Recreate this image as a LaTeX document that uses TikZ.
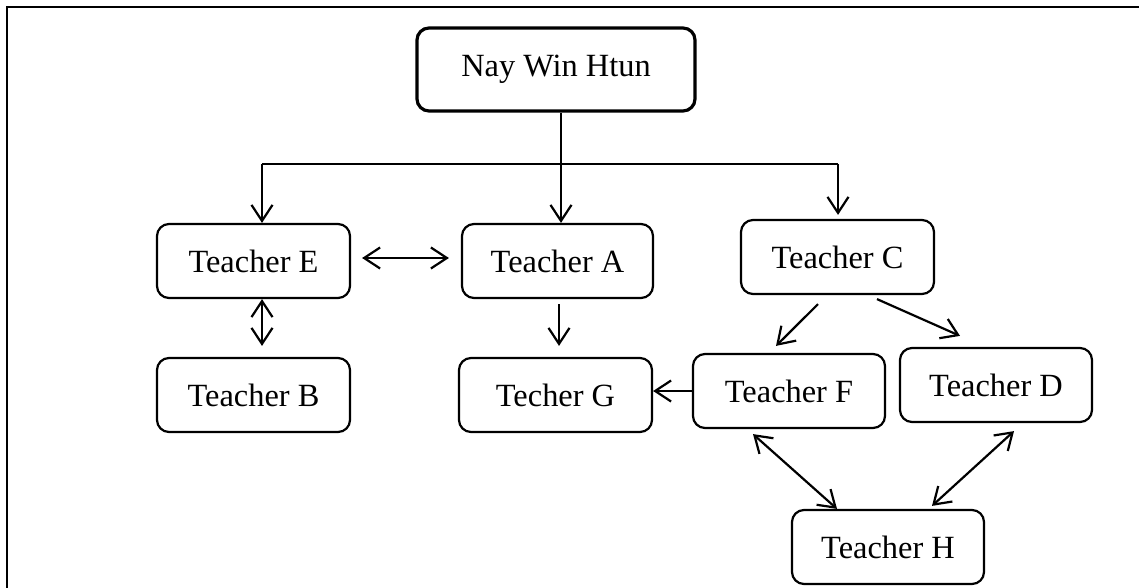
\documentclass[tikz,border=0pt]{standalone}
\usepackage{fontspec}
\setmainfont{Liberation Serif}
\usetikzlibrary{arrows.meta,calc}
\begin{document}
\begin{tikzpicture}[x=0.5pt,y=-0.5pt,
  box/.style={draw,line width=1.1pt,rounded corners=6pt,minimum width=96.5pt,minimum height=37pt,inner sep=0pt,font=\fontsize{16.2}{19}\selectfont},
  conn/.style={line width=1.1pt},
  arr/.style={conn,-{Straight Barb[length=8pt,width=10.5pt]}},
  dbl/.style={conn,{Straight Barb[length=8pt,width=10.5pt]}-{Straight Barb[length=8pt,width=10.5pt]}}]
\useasboundingbox (0,0) rectangle (1139,588);
\fill[white] (0,0) rectangle (1139,588);
\draw[line width=1.3pt] (7,588) -- (7,7) -- (1139,7);
\node[box,line width=1.6pt,minimum width=139pt,minimum height=41.5pt] (N) at (556,69.5) {Nay Win Htun};
\node[box] (E) at (253.5,261) {Teacher E};
\node[box,minimum width=95.5pt] (A) at (557.5,261) {Teacher A};
\node[box] (C) at (837.5,257) {Teacher C};
\node[box] (B) at (253.5,395) {Teacher B};
\node[box] (G) at (555.5,395) {Techer G};
\node[box,minimum width=96pt] (F) at (789,391) {Teacher F};
\node[box,minimum width=96pt] (D) at (996,385) {Teacher D};
\node[box,minimum width=96pt] (H) at (888,547) {Teacher H};
% top distribution
\coordinate (jm) at ($(N.south)+(5,53)$);
\coordinate (jl) at (262,164);
\coordinate (jr) at (838,164);
\draw[conn] ($(N.south)+(5,0)$) -- (jm);
\draw[conn] (jl) -- (jr);
\draw[arr] (jl) -- (jl |- E.north);
\draw[arr] (jm) -- (jm |- A.north);
\draw[arr] (jr) -- ($(jr |- C.north)+(0,-4)$);
% links
\draw[dbl] ($(E.east)+(11,-3)$) -- ($(A.west)+(-12,-3)$);
\draw[dbl] ($(E.south)+(8.5,0)$) -- ($(B.north)+(8.5,-11)$);
\draw[arr] ($(A.south)+(1.5,5)$) -- ($(G.north)+(3.5,-11)$);
\draw[arr] (F.west) -- (F.west -| G.east);
\draw[arr] ($(C.south)+(-19.5,9)$) -- ($(F.north)+(-13,-7)$);
\draw[arr] ($(C.south)+(39.5,4)$) -- ($(D.north)+(-36,-11)$);
\draw[dbl] ($(F.south)+(-36,5)$) -- ($(H.north)+(-51,0)$);
\draw[dbl] ($(D.south)+(18,8)$) -- ($(H.north)+(44,-3)$);
\end{tikzpicture}
\end{document}
